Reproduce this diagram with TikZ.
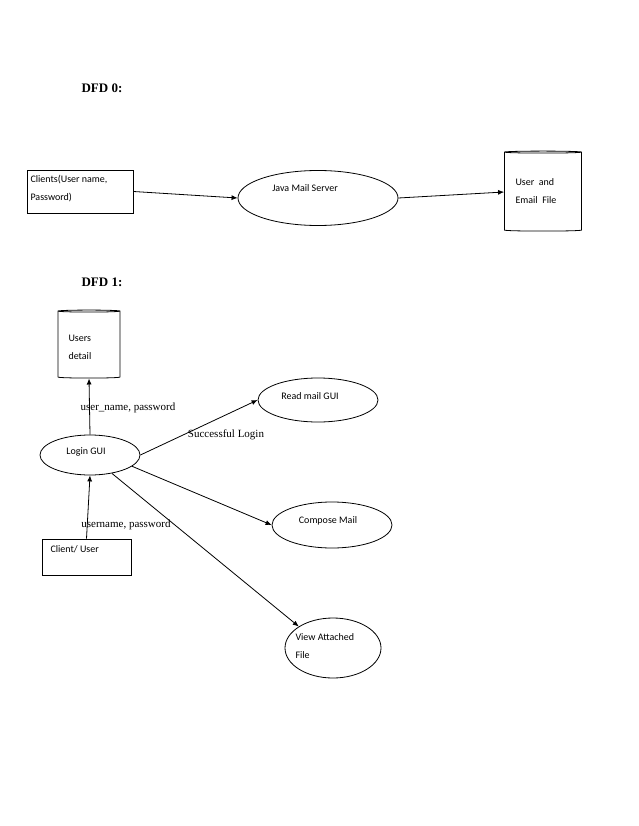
\documentclass[tikz,border=0pt]{standalone}
\usepackage{fontspec}
\setmainfont{Liberation Serif}
\newfontfamily\calfont{Carlito}
\usetikzlibrary{shapes.geometric,arrows.meta}
\begin{document}
\begin{tikzpicture}[x=1pt,y=-1pt,
  ell/.style={draw,thick,ellipse},
  arr/.style={thick,-{Latex[length=6pt,width=5pt]}},
  lab/.style={font=\fontsize{11}{13}\selectfont},
  cyl/.style={draw,thick,cylinder,shape border rotate=90,aspect=0.3}]
\useasboundingbox (0,0) rectangle (638,826);
\node[font=\bfseries\fontsize{13}{15}\selectfont] (d0) at (102,88) {DFD 0:};
\node[font=\bfseries\fontsize{13}{15}\selectfont] (d1) at (102,282) {DFD 1:};
\node[draw,thick,minimum width=106pt,minimum height=43pt] (cl) at (80,191.5) {};
\node[align=left,font=\calfont\fontsize{10}{18}\selectfont,anchor=north west] (clt) at (27,172) {Clients(User name,\\Password)};
\node[draw,thick,ellipse,minimum width=160pt,minimum height=55pt] (jm) at (318,198) {};
\node[font=\calfont\fontsize{10}{12}\selectfont] (jmt) at (305,188) {Java Mail Server};
\node[cyl,minimum width=77pt,minimum height=80pt] (uf) at (543,192) {};
\node[align=left,font=\calfont\fontsize{10}{18}\selectfont,anchor=north west] (uft) at (512,175) {User\ \ and\\Email\ \ File};
\draw[arr] (cl.east) -- (jm.west);
\draw[arr] (jm.east) -- (uf.west);

\node[cyl,minimum width=62pt,minimum height=68pt] (ud) at (89,345) {};
\node[align=left,font=\calfont\fontsize{10}{18}\selectfont,anchor=north west] (udt) at (65,332) {Users\\detail};
\node[ell,minimum width=100pt,minimum height=40pt] (lg) at (90,455) {};
\node[font=\calfont\fontsize{10}{12}\selectfont] (lgt) at (86,452) {Login GUI};
\node[draw,thick,minimum width=89pt,minimum height=36pt] (cu) at (86.5,557) {};
\node[font=\calfont\fontsize{10}{12}\selectfont,anchor=west] (cut) at (47,549) {Client/ User};
\node[ell,minimum width=120pt,minimum height=44pt] (rm) at (318,400) {};
\node[font=\calfont\fontsize{10}{12}\selectfont] (rmt) at (310,396) {Read mail GUI};
\node[ell,minimum width=120pt,minimum height=46pt] (cm) at (332,525) {};
\node[font=\calfont\fontsize{10}{12}\selectfont] (cmt) at (328,521) {Compose Mail};
\node[ell,minimum width=96pt,minimum height=60pt] (va) at (333,648) {};
\node[align=left,font=\calfont\fontsize{10}{18}\selectfont,anchor=north west] (vat) at (292,630) {View Attached\\File};
\draw[arr] (lg.north) -- (ud.south);
\draw[arr] (cu.north) -- (lg.south);
\draw[arr] (lg.east) -- (rm.west);
\draw[arr] (lg.-15) -- (cm.west);
\draw[arr] (lg.-40) -- (va.north west);
\node[lab] (l1) at (128,408) {user\_name, password};
\node[lab] (l2) at (226,435) {Successful Login};
\node[lab] (l3) at (126,525) {username, password};
\end{tikzpicture}
\end{document}
